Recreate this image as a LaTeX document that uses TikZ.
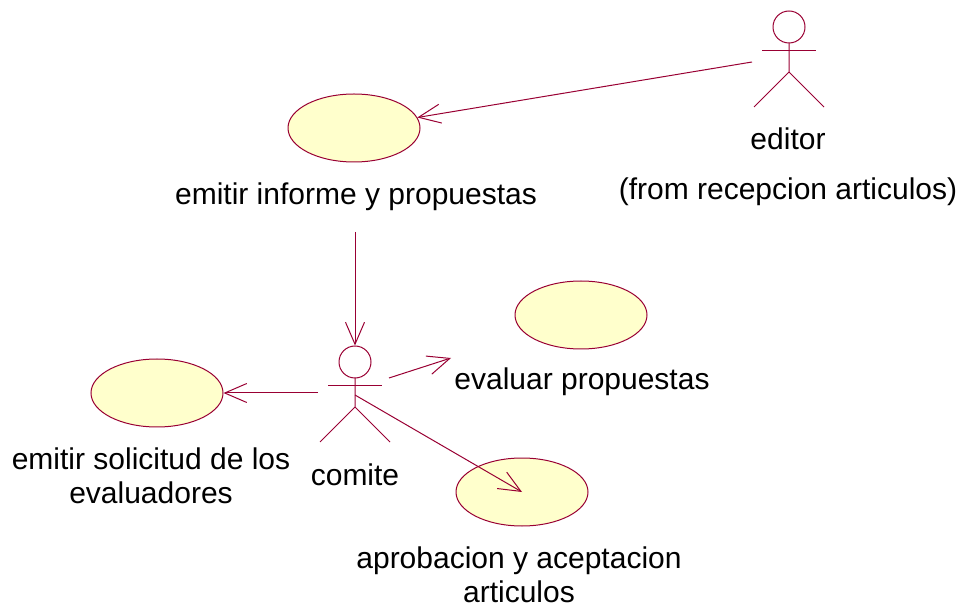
\documentclass[tikz,border=0pt]{standalone}
\usepackage{fontspec}
\setmainfont{Liberation Sans}
\usetikzlibrary{arrows.meta,positioning}
\usetikzlibrary{shapes.geometric}
\definecolor{roseline}{RGB}{153,0,51}
\definecolor{rosefill}{RGB}{255,255,204}
\newcommand{\UCactor}[2]{%
  \node (#1) [circle,draw=roseline,line width=1pt,minimum size=32pt,inner sep=0pt] at (#2) {};
  \draw[roseline,line width=1pt] (#1.center) ++(0,16) -- ++(0,29) coordinate (#1-hip)
     (#1-hip) -- ++(-35,35) (#1-hip) -- ++(35,35);
  \draw[roseline,line width=1pt] (#1.center) ++(-27,24) -- ++(54,0);
}

\begin{document}
\begin{tikzpicture}[x=1pt,y=-1pt,
  usecase/.style={ellipse,draw=roseline,fill=rosefill,line width=1pt,minimum width=132pt,minimum height=68pt},
  lbl/.style={anchor=base,font=\fontsize{30}{34}\selectfont,inner sep=0pt},
  link/.style={-{Straight Barb[length=22pt,width=19pt]},color=roseline,line width=1pt}]
\useasboundingbox (0,0) rectangle (964,609);
% \draw[help lines,step=50] (0,0) grid (964,609);
\node (informe) [usecase] at (354,128) {};
\node (evaluar) [usecase] at (581,315) {};
\node (solicitud) [usecase] at (157,393) {};
\node (aprobacion) [usecase] at (522,492) {};
%
\UCactor{editor}{789,27}
\UCactor{comite}{355,362}
%
\node (informe-lbl) [lbl] at (356,205) {emitir informe y propuestas};
\node (editor-lbl) [lbl] at (788,150) {editor};
\node (editor-pkg) [lbl] at (788,200) {(from recepcion articulos)};
\node (evaluar-lbl) [lbl] at (582,390) {evaluar propuestas};
\node (comite-lbl) [lbl] at (355,485) {comite};
\node (solicitud-lbl) [lbl,align=center] at (151,503) {emitir solicitud de los\\evaluadores};
\node (aprobacion-lbl) [lbl,align=center] at (519,602) {aprobacion y aceptacion\\articulos};
%
\coordinate (editor-src) at (752,62);
\coordinate (informe-src) at (355,232);
\coordinate (comite-w) at (318,393);
\coordinate (comite-e) at (389,378);
\coordinate (evaluar-tip) at (451,358);
\coordinate (comite-body) at (355,395);
%
\path[link] (editor-src) edge (informe);
\path[link] (informe-src) edge (comite);
\path[link] (comite-w) edge (solicitud);
\path[link] (comite-e) edge (evaluar-tip);
\path[link] (comite-body) edge (aprobacion.center);
\end{tikzpicture}
\end{document}
